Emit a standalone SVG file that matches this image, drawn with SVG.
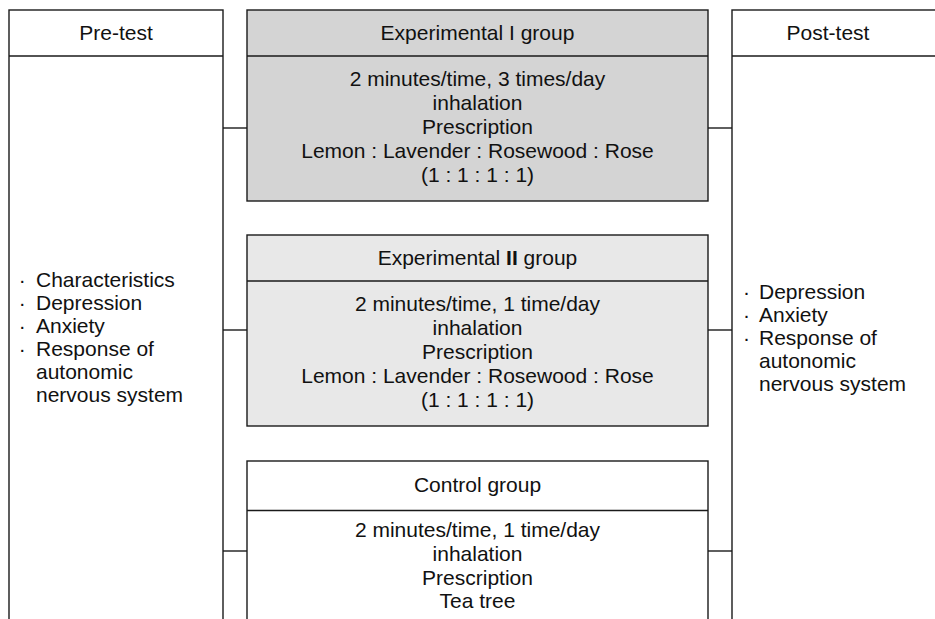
<svg xmlns="http://www.w3.org/2000/svg" width="935" height="619" viewBox="0 0 935 619">
<style>
.box{stroke:#1a1a1a;stroke-width:1.4;}
.ln{stroke:#1a1a1a;stroke-width:1.4;fill:none;}
text{font-family:"Liberation Sans",Arial,sans-serif;font-size:21px;fill:#111;}
.c{text-anchor:middle;}
</style>
<rect width="935" height="619" fill="#fff"/>
<g id="connectors">
<line class="ln" x1="223" y1="128" x2="247" y2="128"/>
<line class="ln" x1="708" y1="128" x2="732" y2="128"/>
<line class="ln" x1="223" y1="330" x2="247" y2="330"/>
<line class="ln" x1="708" y1="330" x2="732" y2="330"/>
<line class="ln" x1="223" y1="551" x2="247" y2="551"/>
<line class="ln" x1="708" y1="551" x2="732" y2="551"/>
</g>
<g id="pretest">
<rect class="box" x="9" y="10" width="214" height="620" fill="#fff"/>
<line class="ln" x1="9" y1="56" x2="223" y2="56"/>
<text class="c" x="116" y="40">Pre-test</text>
<text x="18.8" y="287">·<tspan x="36">Characteristics</tspan></text>
<text x="18.8" y="310">·<tspan x="36">Depression</tspan></text>
<text x="18.8" y="333">·<tspan x="36">Anxiety</tspan></text>
<text x="18.8" y="356">·<tspan x="36">Response of</tspan></text>
<text x="36" y="379">autonomic</text>
<text x="36" y="402">nervous system</text>
</g>
<g id="exp1">
<rect class="box" x="247" y="10" width="461" height="191" fill="#d4d4d4"/>
<line class="ln" x1="247" y1="56" x2="708" y2="56"/>
<text class="c" x="477.5" y="40">Experimental I group</text>
<text class="c" x="477.5" y="86">2 minutes/time, 3 times/day</text>
<text class="c" x="477.5" y="110">inhalation</text>
<text class="c" x="477.5" y="134">Prescription</text>
<text class="c" x="477.5" y="158">Lemon : Lavender : Rosewood : Rose</text>
<text class="c" x="477.5" y="182">(1 : 1 : 1 : 1)</text>
</g>
<g id="exp2">
<rect class="box" x="247" y="235" width="461" height="191" fill="#e8e8e8"/>
<line class="ln" x1="247" y1="281" x2="708" y2="281"/>
<text class="c" x="477.5" y="265">Experimental <tspan font-weight="bold">II</tspan> group</text>
<text class="c" x="477.5" y="311">2 minutes/time, 1 time/day</text>
<text class="c" x="477.5" y="335">inhalation</text>
<text class="c" x="477.5" y="359">Prescription</text>
<text class="c" x="477.5" y="383">Lemon : Lavender : Rosewood : Rose</text>
<text class="c" x="477.5" y="407">(1 : 1 : 1 : 1)</text>
</g>
<g id="control">
<rect class="box" x="247" y="461" width="461" height="170" fill="#fff"/>
<line class="ln" x1="247" y1="510.5" x2="708" y2="510.5"/>
<text class="c" x="477.5" y="492">Control group</text>
<text class="c" x="477.5" y="537">2 minutes/time, 1 time/day</text>
<text class="c" x="477.5" y="561">inhalation</text>
<text class="c" x="477.5" y="584.5">Prescription</text>
<text class="c" x="477.5" y="608">Tea tree</text>
</g>
<g id="posttest">
<rect class="box" x="732" y="10" width="220" height="620" fill="#fff"/>
<line class="ln" x1="732" y1="56" x2="935" y2="56"/>
<text class="c" x="828" y="40">Post-test</text>
<text x="743.1" y="298.5">·<tspan x="759">Depression</tspan></text>
<text x="743.1" y="321.5">·<tspan x="759">Anxiety</tspan></text>
<text x="743.1" y="344.5">·<tspan x="759">Response of</tspan></text>
<text x="759" y="367.5">autonomic</text>
<text x="759" y="390.5">nervous system</text>
</g>
</svg>
